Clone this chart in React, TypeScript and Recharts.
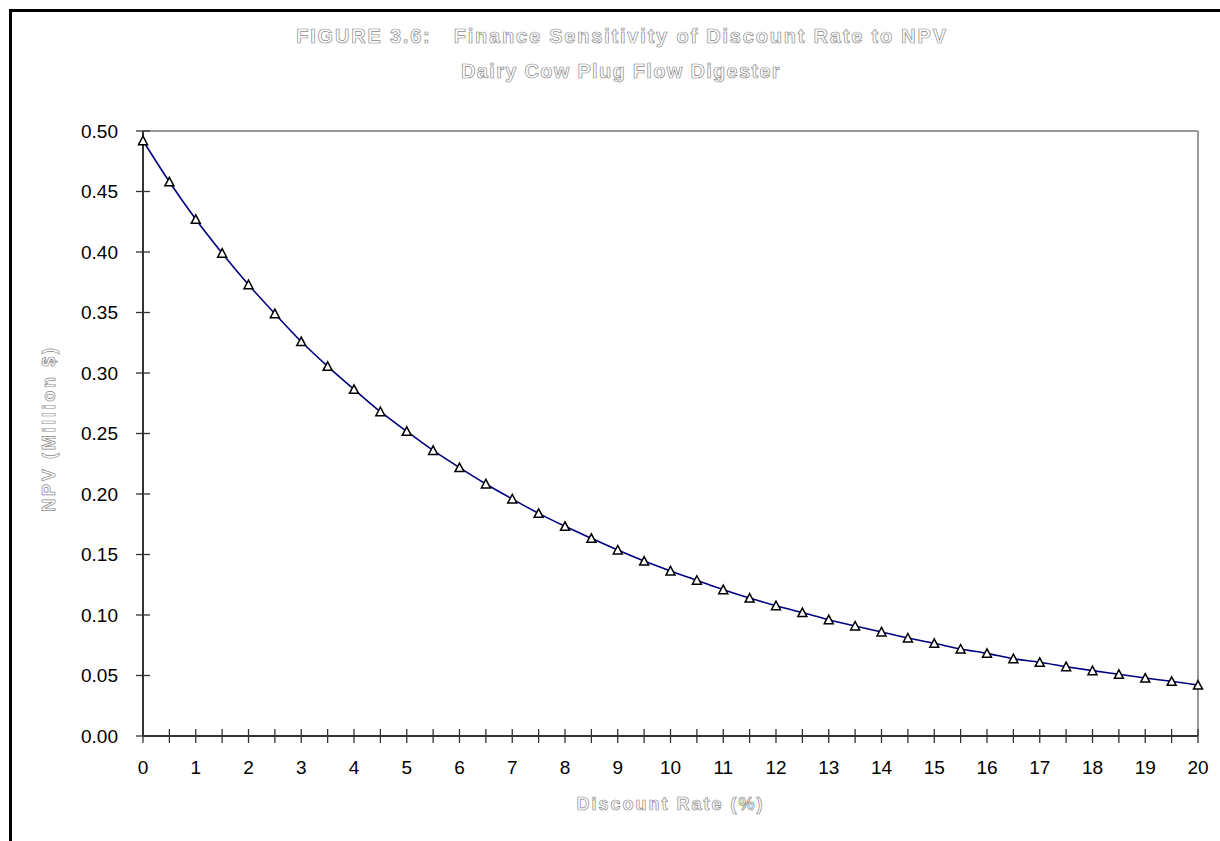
import React from 'react';
import { LineChart, Line, XAxis, YAxis, ReferenceLine } from 'recharts';

// discount rate (%) and NPV (million $)
const rates = [
  0, 0.5, 1, 1.5, 2, 2.5, 3, 3.5, 4, 4.5, 5, 5.5, 6, 6.5, 7, 7.5, 8, 8.5, 9, 9.5, 10,
  10.5, 11, 11.5, 12, 12.5, 13, 13.5, 14, 14.5, 15, 15.5, 16, 16.5, 17, 17.5, 18, 18.5, 19, 19.5, 20,
];
const npv = [
  0.492, 0.458, 0.427, 0.399, 0.373, 0.349, 0.326, 0.3055, 0.2865, 0.268, 0.2518, 0.236, 0.2218, 0.2083, 0.1959, 0.184, 0.1733,
  0.1634, 0.1537, 0.1446, 0.1364, 0.1287, 0.1209, 0.114, 0.1077, 0.102, 0.0961, 0.0909, 0.086, 0.081, 0.0766,
  0.0719, 0.0683, 0.0639, 0.0609, 0.0573, 0.054, 0.051, 0.0479, 0.0452, 0.0421,
];
const xTicks = rates;
const yTicks = [0, 0.05, 0.1, 0.15, 0.2, 0.25, 0.3, 0.35, 0.4, 0.45, 0.5];

const titleLine1 = 'FIGURE 3.6:\u00a0\u00a0 Finance Sensitivity of Discount Rate to NPV';
const titleLine2 = 'Dairy Cow Plug Flow Digester';
const xTitle = 'Discount Rate (%)';
const yTitle = 'NPV (Million $)';

const data = rates.map((r, i) => ({ rate: r, npv: npv[i] }));

const FONT = '"Liberation Sans", Arial, sans-serif';
const TICK_SIZE = 7;
const TICK_MARGIN = 2;

const outline = {
  fill: '#fff',
  stroke: '#8a8a8a',
  strokeWidth: 0.7,
  fontFamily: FONT,
  fontWeight: 'bold' as const,
};

const XTick = (props: any) => {
  const { x, y, payload } = props;
  const axisY = y - TICK_SIZE - TICK_MARGIN;
  const v = payload.value;
  return (
    <g>
      <line x1={x} x2={x} y1={axisY - 7} y2={axisY + 7} stroke="#333" strokeWidth={1.3} />
      {Number.isInteger(v) && (
        <text x={x} y={axisY + 38} textAnchor="middle" fontSize={19} fontFamily={FONT} fill="#000">
          {v}
        </text>
      )}
    </g>
  );
};

const YTick = (props: any) => {
  const { x, y, payload } = props;
  const axisX = x + TICK_SIZE + TICK_MARGIN;
  return (
    <g>
      <line x1={axisX - 7} x2={axisX + 7} y1={y} y2={y} stroke="#333" strokeWidth={1.3} />
      <text x={axisX - 25} y={y + 6.5} textAnchor="end" fontSize={19} fontFamily={FONT} fill="#000">
        {payload.value.toFixed(2)}
      </text>
    </g>
  );
};

const Triangle = (props: any) => {
  const { cx, cy } = props;
  if (cx == null || cy == null) return null;
  return (
    <polygon
      points={`${cx - 4.5},${cy + 4} ${cx + 4.5},${cy + 4} ${cx},${cy - 4.5}`}
      fill="#fff"
      stroke="#000"
      strokeWidth={1.5}
      strokeLinejoin="miter"
    />
  );
};

export default function App() {
  return (
    <div
      style={{
        position: 'absolute',
        left: 9,
        top: 9,
        width: 1208,
        height: 829,
        borderTop: '3px solid #000',
        borderLeft: '3px solid #000',
        background: '#fff',
      }}
    >
      <LineChart
        width={1208}
        height={829}
        data={data}
        margin={{ top: 119, right: 22, left: 0, bottom: 0 }}
      >
        <ReferenceLine y={0.5} stroke="#999" strokeWidth={2} />
        <ReferenceLine x={20} stroke="#999" strokeWidth={2} />
        <XAxis
          dataKey="rate"
          type="number"
          domain={[0, 20]}
          ticks={xTicks}
          interval={0}
          height={105}
          tickSize={TICK_SIZE}
          tickMargin={TICK_MARGIN}
          tickLine={false}
          tick={<XTick />}
          axisLine={{ stroke: '#333', strokeWidth: 2 }}
          label={{
            content: ({ viewBox }: any) => (
              <text
                x={viewBox.x + viewBox.width / 2}
                y={viewBox.y + 74}
                textAnchor="middle"
                fontSize={18}
                letterSpacing={2}
                {...outline}
              >
                {xTitle}
              </text>
            ),
          }}
        />
        <YAxis
          type="number"
          domain={[0, 0.5]}
          ticks={yTicks}
          interval={0}
          width={131}
          tickSize={TICK_SIZE}
          tickMargin={TICK_MARGIN}
          tickLine={false}
          tick={<YTick />}
          axisLine={{ stroke: '#333', strokeWidth: 2 }}
          label={{
            content: ({ viewBox }: any) => {
              const cx = viewBox.x + 43;
              const cy = viewBox.y + viewBox.height / 2 - 5;
              return (
                <text
                  x={cx}
                  y={cy}
                  transform={`rotate(-90 ${cx} ${cy})`}
                  textAnchor="middle"
                  fontSize={18}
                  letterSpacing={2.7}
                  {...outline}
                >
                  {yTitle}
                </text>
              );
            },
          }}
        />
        <Line
          type="monotone"
          dataKey="npv"
          stroke="#000080"
          strokeWidth={1.6}
          dot={<Triangle />}
          activeDot={false}
          isAnimationActive={false}
        />
      </LineChart>
      <svg
        width={1208}
        height={829}
        style={{ position: 'absolute', left: 0, top: 0, pointerEvents: 'none' }}
      >
        <text x={610} y={31} textAnchor="middle" fontSize={20} letterSpacing={1.8} {...outline}>
          {titleLine1}
        </text>
        <text x={609} y={66} textAnchor="middle" fontSize={20} letterSpacing={1.3} {...outline}>
          {titleLine2}
        </text>
      </svg>
    </div>
  );
}
